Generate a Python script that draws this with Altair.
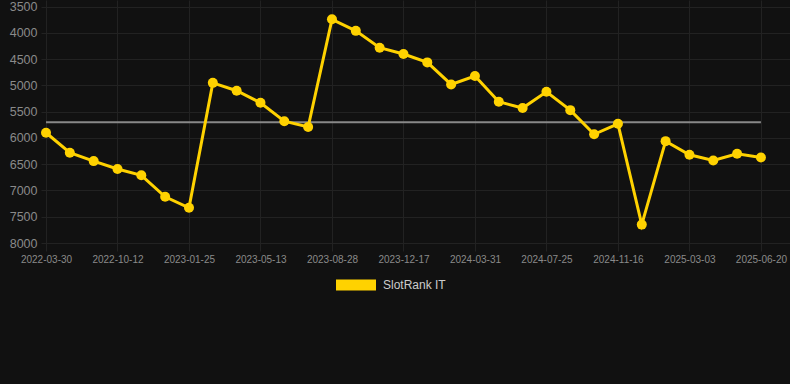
import altair as alt
import pandas as pd

dates = [
    "2022-03-30", "2022-06-04", "2022-08-08", "2022-10-12", "2022-11-16", "2022-12-21",
    "2023-01-25", "2023-03-01", "2023-04-07", "2023-05-13", "2023-06-18", "2023-07-23",
    "2023-08-28", "2023-10-04", "2023-11-10", "2023-12-17", "2024-01-21", "2024-02-25",
    "2024-03-31", "2024-05-08", "2024-06-16", "2024-07-25", "2024-08-31", "2024-10-08",
    "2024-11-16", "2024-12-21", "2025-01-26", "2025-03-03", "2025-04-08", "2025-05-15",
    "2025-06-20",
]
ranks = [
    5900, 6280, 6440, 6590, 6710, 7120, 7330, 4950, 5100, 5330, 5680, 5790,
    3740, 3960, 4280, 4400, 4560, 4980, 4820, 5310, 5430, 5120, 5470, 5930,
    5730, 7650, 6060, 6320, 6430, 6300, 6370,
]
average_rank = 5700
series_name = "SlotRank IT"
y_ticks = [3500, 4000, 4500, 5000, 5500, 6000, 6500, 7000, 7500, 8000]
x_tick_idx = list(range(0, len(dates), 3))

df = pd.DataFrame({"idx": list(range(len(dates))), "date": dates, "rank": ranks,
                   "series": [series_name] * len(dates)})
avg_df = pd.DataFrame({"x0": [0], "x1": [len(dates) - 1], "avg": [average_rank]})

label_expr = "[" + ",".join(f"'{d}'" for d in dates) + "][datum.value]"

YELLOW = "#FFD200"
GRID = "#222222"

x_scale = alt.Scale(domain=[-0.21, 31.22], nice=False, zero=False)
x_axis = alt.Axis(values=x_tick_idx, labelExpr=label_expr, title=None,
                  grid=True, gridColor=GRID, domain=False,
                  ticks=True, tickSize=8, tickColor=GRID,
                  labelColor="#8a8a8a", labelFontSize=10, labelPadding=3,
                  labelFont="Liberation Sans", labelAngle=0,
                  labelOverlap=False, labelFlush=False)
y_scale = alt.Scale(domain=[3372, 8000], reverse=True, nice=False, zero=False)
y_axis = alt.Axis(values=y_ticks, title=None, grid=True, gridColor=GRID, domain=False,
                  ticks=False, labelColor="#8a8a8a", labelFontSize=12.5, labelPadding=4,
                  labelFont="Liberation Sans", format="d", labelOverlap=False,
                  labelFlush=False)

color_enc = alt.Color("series:N",
                      scale=alt.Scale(domain=[series_name], range=[YELLOW]),
                      legend=alt.Legend(title=None, orient="none", legendX=295, legendY=265,
                                        symbolType="M-1,-0.275L1,-0.275L1,0.275L-1,0.275Z",
                                        symbolSize=1600, symbolStrokeWidth=0,
                                        symbolFillColor=YELLOW, symbolOpacity=1,
                                        labelColor="#cccccc", labelFontSize=12,
                                        labelFont="Liberation Sans", padding=0,
                                        labelOffset=7))

avg = alt.Chart(avg_df).mark_rule(color="#888888", strokeWidth=2).encode(
    x=alt.X("x0:Q", scale=x_scale, axis=x_axis), x2="x1:Q",
    y=alt.Y("avg:Q", scale=y_scale, axis=y_axis))
line = alt.Chart(df).mark_line(strokeWidth=3).encode(
    x=alt.X("idx:Q", scale=x_scale, axis=x_axis),
    y=alt.Y("rank:Q", scale=y_scale, axis=y_axis), color=color_enc)
pts = alt.Chart(df).mark_circle(size=100, opacity=1).encode(
    x=alt.X("idx:Q", scale=x_scale, axis=x_axis),
    y=alt.Y("rank:Q", scale=y_scale, axis=y_axis),
    color=alt.Color("series:N", legend=None))

chart = alt.layer(avg, line, pts).properties(
    width=749, height=243,
    background="#111111",
    padding={"left": 41, "top": 0, "right": 0, "bottom": 141},
    autosize=alt.AutoSizeParams(type="none"),
).configure_view(strokeWidth=0)

chart.save("out.html", embed_options={"renderer": "svg", "actions": False})
